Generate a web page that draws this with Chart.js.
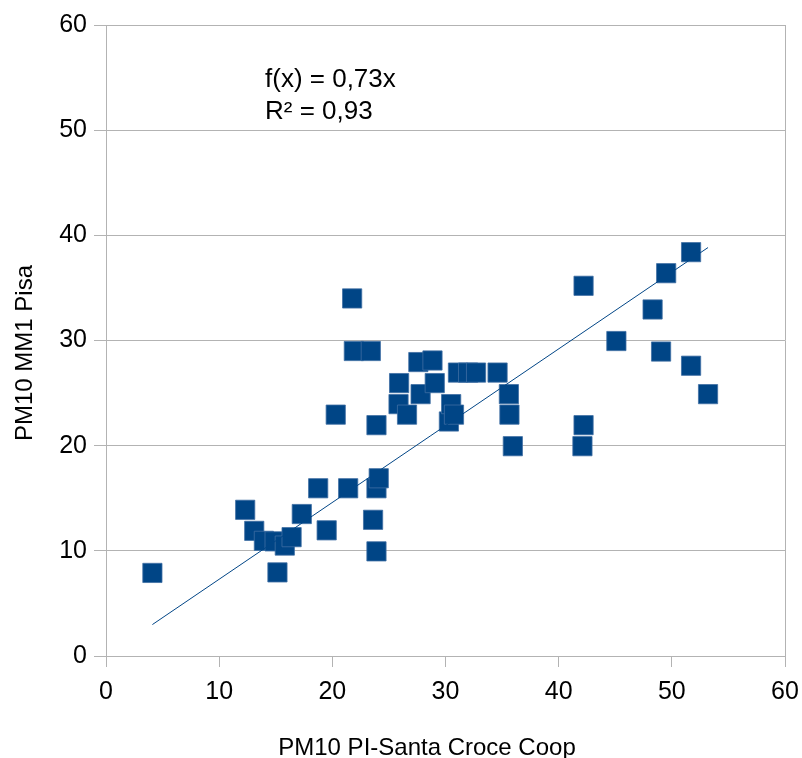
<!DOCTYPE html>
<html>
<head>
<meta charset="utf-8">
<script src="https://cdn.jsdelivr.net/npm/chart.js@4/dist/chart.umd.min.js"></script>
<style>
  html, body { margin: 0; padding: 0; background: #fff; }
  #wrap { width: 802px; height: 758px; }
</style>
</head>
<body>
<div id="wrap"><canvas id="scatter" width="802" height="758"></canvas></div>
<script>
// PM10 Santa Croce Coop (x) vs PM10 MM1 Pisa (y)
const coopValues = [
  4.1, 12.3, 13.1, 13.95, 14.9, 15.8, 16.4, 15.15, 17.3, 18.75,
  19.5, 20.3, 21.4, 21.75, 21.9, 23.4, 23.6, 23.9, 23.9, 23.9,
  24.1, 25.9, 25.85, 26.6, 27.6, 27.8, 28.85, 29.05, 30.3, 30.5,
  30.75, 31.1, 32.0, 32.7, 34.6, 35.6, 35.65, 35.95, 42.2, 42.2,
  42.1, 45.1, 48.3, 49.05, 49.5, 51.7, 51.7, 53.2
];
const pisaValues = [
  7.9, 13.9, 11.9, 10.95, 10.9, 10.5, 11.3, 7.95, 13.5, 15.95,
  11.95, 22.95, 15.95, 34.0, 29.0, 29.0, 12.95, 21.95, 15.95, 9.95,
  16.9, 25.95, 23.95, 22.95, 27.95, 24.9, 28.1, 25.95, 22.3, 23.95,
  22.95, 26.95, 26.95, 26.95, 26.95, 24.9, 22.95, 19.95, 35.2, 21.95,
  19.95, 29.95, 32.95, 28.95, 36.4, 27.6, 38.4, 24.9
];
// trend line f(x) = 0,73x between the outer points
const trendX = [4.1, 53.2];
const trendY = [2.99, 38.84];
const tickValues = [0, 10, 20, 30, 40, 50, 60];
const xTitle = "PM10 PI-Santa Croce Coop";
const yTitle = "PM10 MM1 Pisa";
const equationLines = ["f(x) = 0,73x", "R² = 0,93"];

const blue = "#004586";
const gridGrey = "#b3b3b3";
const fontFamily = '"Liberation Sans", Arial, sans-serif';

const points = coopValues.map((x, i) => ({ x: x, y: pisaValues[i] }));
const trend = trendX.map((x, i) => ({ x: x, y: trendY[i] }));

// titles and the regression text are placed like LibreOffice does it
const textPlugin = {
  id: "textPlugin",
  afterDraw(chart) {
    const ctx = chart.ctx;
    const area = chart.chartArea;
    ctx.save();
    ctx.fillStyle = "#000";
    ctx.textBaseline = "alphabetic";

    ctx.font = "26px " + fontFamily;
    ctx.textAlign = "left";
    ctx.fillText(equationLines[0], area.left + 159, area.top + 62);
    ctx.fillText(equationLines[1], area.left + 159, area.top + 94);

    ctx.font = "24px " + fontFamily;
    ctx.textAlign = "center";
    ctx.fillText(xTitle, 427, 755);

    ctx.translate(32, 353);
    ctx.rotate(-Math.PI / 2);
    ctx.fillText(yTitle, 0, 0);
    ctx.restore();
  }
};

new Chart(document.getElementById("scatter"), {
  type: "scatter",
  data: {
    datasets: [
      {
        label: "trend",
        type: "line",
        data: trend,
        borderColor: blue,
        borderWidth: 1,
        pointRadius: 0,
        fill: false,
        order: 0
      },
      {
        label: "PM10",
        data: points,
        pointStyle: "rect",
        pointRadius: 13.6,
        pointHoverRadius: 13.6,
        backgroundColor: blue,
        borderColor: "#3f6ea3",
        borderWidth: 0.8,
        order: 1
      }
    ]
  },
  options: {
    responsive: false,
    animation: false,
    layout: { padding: { top: 25, right: 17, left: 0, bottom: 0 } },
    plugins: {
      legend: { display: false },
      tooltip: { enabled: false }
    },
    scales: {
      x: {
        type: "linear",
        min: 0,
        max: 60,
        afterBuildTicks: (scale) => { scale.ticks = tickValues.map(v => ({ value: v })); },
        afterFit: (scale) => {
          scale.height = 102;
          scale.paddingLeft = 0;
          scale.paddingRight = 0;
        },
        ticks: { color: "#000", font: { family: fontFamily, size: 25 }, padding: 10 },
        grid: {
          drawOnChartArea: true,
          color: (c) => (c.tick && c.tick.value === 60 ? gridGrey : "rgba(0,0,0,0)"),
          tickColor: gridGrey,
          tickLength: 11,
          lineWidth: 1
        },
        border: { color: gridGrey, width: 1 }
      },
      y: {
        type: "linear",
        min: 0,
        max: 60,
        afterBuildTicks: (scale) => { scale.ticks = tickValues.map(v => ({ value: v })); },
        afterFit: (scale) => {
          scale.width = 106;
          scale.paddingTop = 0;
          scale.paddingBottom = 0;
        },
        ticks: { color: "#000", font: { family: fontFamily, size: 25 }, padding: 7 },
        grid: {
          color: gridGrey,
          tickColor: gridGrey,
          tickLength: 12,
          lineWidth: 1
        },
        border: { color: gridGrey, width: 1 }
      }
    }
  },
  plugins: [textPlugin]
});
</script>
</body>
</html>
